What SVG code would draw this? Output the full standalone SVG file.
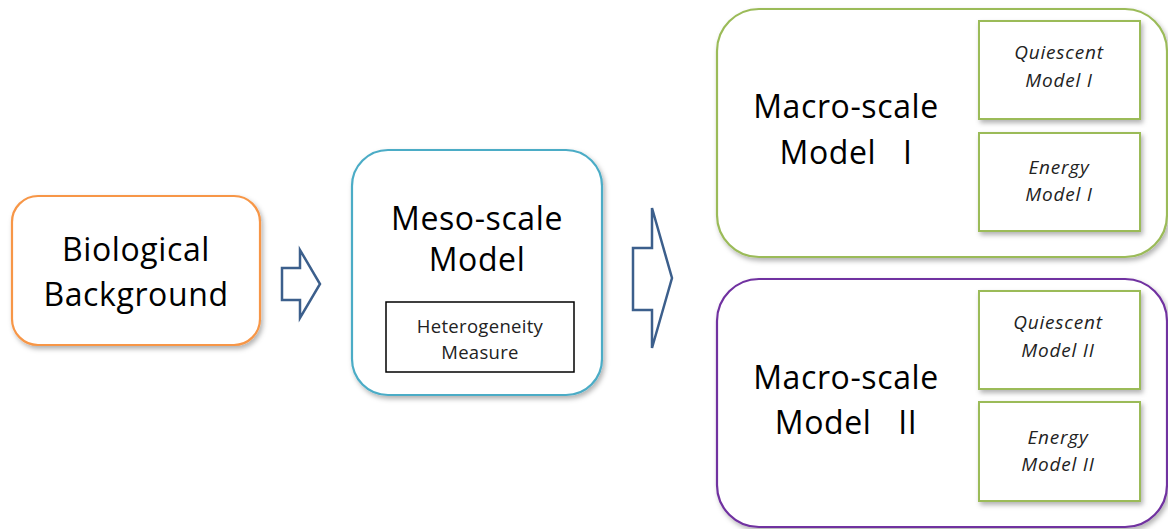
<svg xmlns="http://www.w3.org/2000/svg" width="1168" height="529" viewBox="0 0 1168 529">
<defs>
<filter id="sh" x="-10%" y="-10%" width="125%" height="130%">
<feDropShadow dx="2" dy="3" stdDeviation="2.5" flood-color="#000" flood-opacity="0.3"/>
</filter>
<style>
.big{font-family:"Open Sans","Liberation Sans",sans-serif;font-size:32px;letter-spacing:0.6px;fill:#000;text-anchor:middle}
.sm{font-family:"Open Sans","Liberation Sans",sans-serif;font-size:18.5px;letter-spacing:0.3px;fill:#222;text-anchor:middle}
.it{font-family:"Open Sans","Liberation Sans",sans-serif;font-size:19px;letter-spacing:0.8px;font-style:italic;fill:#222;text-anchor:middle}
.box{fill:#fff;stroke-width:2.2;filter:url(#sh)}
.inner{fill:#fff;stroke:#9BBB59;stroke-width:2;filter:url(#sh)}
.arrow{fill:#fff;stroke:#3C5F8C;stroke-width:2.5;stroke-linejoin:miter}
</style>
</defs>
<rect width="1168" height="529" fill="#fff"/>
<g id="bio">
<rect class="box" x="12" y="196" width="248" height="149" rx="26" stroke="#F79646"/>
<text class="big" x="136" y="261">Biological</text>
<text class="big" x="136" y="306">Background</text>
</g>
<g id="meso">
<rect class="box" x="352" y="150" width="250" height="245" rx="36" stroke="#4BACC6"/>
<text class="big" x="477" y="230">Meso-scale</text>
<text class="big" x="477" y="271">Model</text>
<rect x="386" y="302" width="188" height="70" fill="#fff" stroke="#000" stroke-width="1.5"/>
<text class="sm" x="480" y="333">Heterogeneity</text>
<text class="sm" x="480" y="359">Measure</text>
</g>
<g id="macro1">
<rect class="box" x="717" y="9" width="450" height="248" rx="42" stroke="#9BBB59"/>
<text class="big" x="846" y="118">Macro-scale</text>
<text class="big" x="846" y="164" xml:space="preserve">Model   I</text>
<g id="q1">
<rect class="inner" x="979" y="21" width="161" height="98"/>
<text class="it" x="1059" y="59">Quiescent</text>
<text class="it" x="1059" y="87">Model I</text>
</g>
<g id="e1">
<rect class="inner" x="979" y="133" width="161" height="98"/>
<text class="it" x="1059" y="174">Energy</text>
<text class="it" x="1059" y="201">Model I</text>
</g>
</g>
<g id="macro2">
<rect class="box" x="717" y="279" width="450" height="248" rx="42" stroke="#7030A0"/>
<text class="big" x="846" y="389">Macro-scale</text>
<text class="big" x="846" y="434" xml:space="preserve">Model   II</text>
<g id="q2">
<rect class="inner" x="979" y="291" width="161" height="98"/>
<text class="it" x="1058" y="329">Quiescent</text>
<text class="it" x="1058" y="357">Model II</text>
</g>
<g id="e2">
<rect class="inner" x="979" y="402" width="161" height="99"/>
<text class="it" x="1058" y="444">Energy</text>
<text class="it" x="1058" y="471">Model II</text>
</g>
</g>
<g id="connectors">
<polygon class="arrow" points="282,268 300,268 300,250 320,284 300,318 300,300 282,300"/>
<polygon class="arrow" points="633,248 652,248 652,208 672,278 652,348 652,310 633,310"/>
</g>
</svg>
